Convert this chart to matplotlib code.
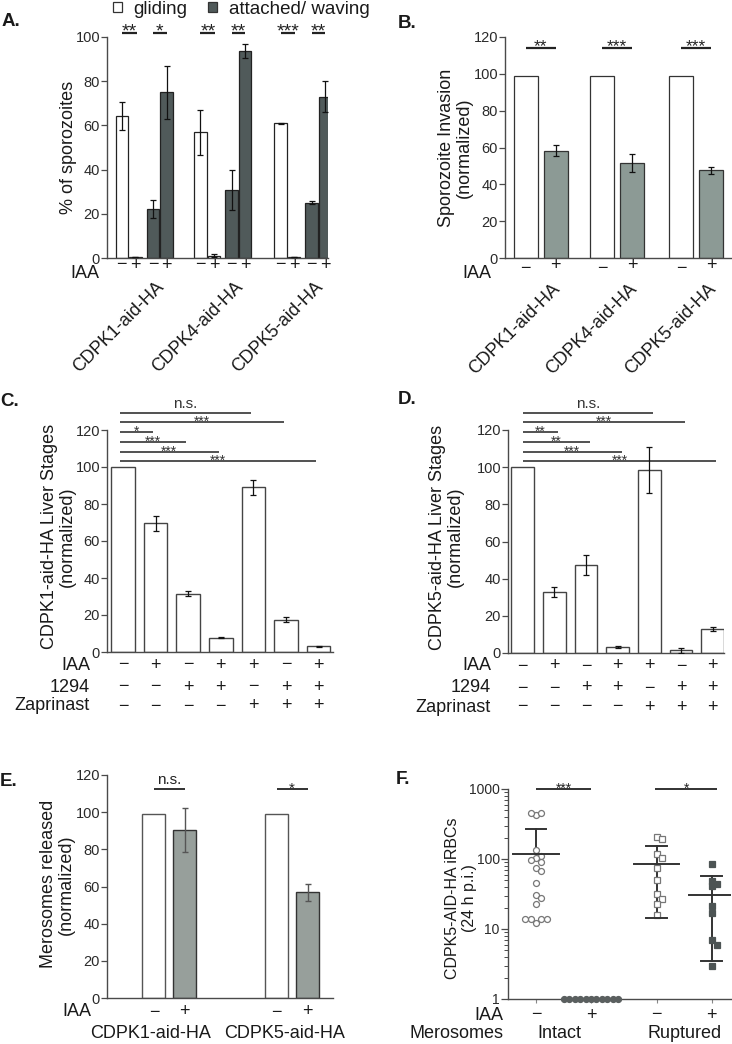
import numpy as np
import matplotlib
matplotlib.use('Agg')
import matplotlib.pyplot as plt
from matplotlib.patches import Patch
from matplotlib.transforms import ScaledTranslation
from matplotlib.textpath import TextPath
from matplotlib.font_manager import FontProperties

plt.rcParams['font.family'] = ['Liberation Sans', 'DejaVu Sans']

# ---------------- data ----------------
# Panel A
a_strains = ['CDPK1-aid-HA', 'CDPK4-aid-HA', 'CDPK5-aid-HA']
a_gliding_minus = [64.2, 56.8, 60.9]
a_gliding_minus_sd = [6.4, 10.2, 0.4]
a_gliding_plus = [0.3, 1.0, 0.3]
a_gliding_plus_sd = [0.0, 0.6, 0.0]
a_attached_minus = [22.3, 30.8, 25.1]
a_attached_minus_sd = [4.1, 9.0, 0.5]
a_attached_plus = [74.9, 93.7, 72.9]
a_attached_plus_sd = [11.8, 3.0, 7.0]
a_sig_gliding = ['**', '**', '***']
a_sig_attached = ['*', '**', '**']
iaa_signs = ['\u2212', '+']
a_legend = ['gliding', 'attached/ waving']

# Panel B
b_strains = ['CDPK1-aid-HA', 'CDPK4-aid-HA', 'CDPK5-aid-HA']
b_minus = [99, 99, 99]
b_plus = [58.2, 51.5, 47.6]
b_plus_sd = [3.0, 5.0, 2.0]
b_sig = ['**', '***', '***']

# Panels C and D
cd_rows = ['IAA', '1294', 'Zaprinast']
cd_iaa = ['\u2212', '+', '\u2212', '+', '+', '\u2212', '+']
cd_1294 = ['\u2212', '\u2212', '+', '+', '\u2212', '+', '+']
cd_zap = ['\u2212', '\u2212', '\u2212', '\u2212', '+', '+', '+']
c_values = [100, 69.5, 31.6, 7.8, 89.0, 17.5, 3.1]
c_sd = [0, 4.2, 1.3, 0.3, 3.9, 1.2, 0.3]
c_sig_target = [4, 5, 1, 2, 3, 6]
c_sig_label = ['n.s.', '***', '*', '***', '***', '***']
d_values = [100, 32.9, 47.2, 3.2, 98.4, 1.4, 12.9]
d_sd = [0, 2.7, 5.4, 0.3, 12.4, 1.2, 1.3]
d_sig_target = [4, 5, 1, 2, 3, 6]
d_sig_label = ['n.s.', '***', '**', '**', '***', '***']

# Panel E
e_strains = ['CDPK1-aid-HA', 'CDPK5-aid-HA']
e_minus = [99, 99]
e_plus = [90.5, 57.0]
e_plus_sd = [12.0, 4.6]
e_sig = ['n.s.', '*']

# Panel F
f_groups = ['Intact', 'Ruptured']
f_intact_minus = [420, 450, 460, 133, 112, 105, 98, 91, 74, 67, 45, 31, 28, 23,
                  12, 14, 14, 14, 14]
f_intact_plus = [1, 1, 1, 1, 1, 1, 1, 1, 1, 1, 1]
f_ruptured_minus = [208, 191, 118, 105, 74, 50, 32, 27, 23, 16]
f_ruptured_plus = [85, 49, 41, 44, 21, 17, 7, 6, 3]
f_sig = ['***', '*']

# ---------------- layout helpers ----------------
W, H, DPI = 732, 1044, 100
fig = plt.figure(figsize=(W / DPI, H / DPI), dpi=DPI)
AX_COL = '#4a4a4a'
TXT = '#1a1a1a'
DARK = '#505a5a'
GRAY_B = '#8c9a95'
GRAY_E = '#979f9b'

# ink bottom of the asterisk glyph, as a fraction of the font size
_star_ext = TextPath((0, 0), '*', size=1.0, prop=FontProperties(family='Liberation Sans')).get_extents()
STAR_YMIN = _star_ext.y0


def add_ax(l, r, t, b):
    ax = fig.add_axes([l / W, 1 - b / H, (r - l) / W, (b - t) / H])
    ax.spines['top'].set_visible(False)
    ax.spines['right'].set_visible(False)
    for s in ('left', 'bottom'):
        ax.spines[s].set_color(AX_COL)
        ax.spines[s].set_linewidth(1.0)
    ax.tick_params(axis='y', direction='out', length=4, width=0.9, color=AX_COL,
                   labelsize=10.5, labelcolor='#2a2a2a', pad=1)
    ax.tick_params(axis='x', length=0, labelbottom=False)
    return ax


def below(ax, dy):
    return ax.get_xaxis_transform() + ScaledTranslation(0, -dy / DPI, fig.dpi_scale_trans)


def ftext(x, y, s, **kw):
    kw.setdefault('color', TXT)
    fig.text(x / W, 1 - y / H, s, **kw)


def sig(ax, x0, x1, y, label, fs, lw=1.3, color='#222', gap=2.0):
    ax.plot([x0, x1], [y, y], color=color, lw=lw, clip_on=False, solid_capstyle='butt')
    if '*' in label:
        off = -(STAR_YMIN * fs * DPI / 72) + gap
        tr = ax.transData + ScaledTranslation(0, off / DPI, fig.dpi_scale_trans)
        ax.text((x0 + x1) / 2, y, label, ha='center', va='baseline', fontsize=fs,
                color=color, transform=tr, clip_on=False)
    else:
        tr = ax.transData + ScaledTranslation(0, 2 / DPI, fig.dpi_scale_trans)
        ax.text((x0 + x1) / 2, y, label, ha='center', va='bottom', fontsize=fs,
                color=color, transform=tr, clip_on=False)


LBL = 13
ekw = dict(ecolor='#111', elinewidth=0.9, capsize=2, capthick=0.9)

# ---------------- Panel A ----------------
axA = add_ax(107, 328, 37, 258)
grp = np.array([0, 5.8, 11.7])
inner = [0, 1, 2.3, 3.3]
bw = 0.92
series = [(a_gliding_minus, a_gliding_minus_sd, 'white'),
          (a_gliding_plus, a_gliding_plus_sd, 'white'),
          (a_attached_minus, a_attached_minus_sd, DARK),
          (a_attached_plus, a_attached_plus_sd, DARK)]
for k, (vals, sds, col) in enumerate(series):
    xs = grp + inner[k]
    axA.bar(xs, vals, width=bw, color=col, edgecolor='#222', linewidth=0.9, zorder=2)
    axA.errorbar(xs, vals, yerr=sds, fmt='none', zorder=3, **ekw)
axA.set_ylim(0, 100)
axA.set_xlim(-1.09, 15.2)
axA.set_yticks([0, 20, 40, 60, 80, 100])
axA.set_ylabel('% of sporozoites', fontsize=LBL, color=TXT)
axA.yaxis.set_label_coords(-(107 - 77) / (328 - 107), 0.5)
for g in range(3):
    sig(axA, grp[g] + inner[0], grp[g] + inner[1] + 0.1, 101.7, a_sig_gliding[g], 14, lw=1.6, gap=3.0)
    sig(axA, grp[g] + inner[2], grp[g] + inner[3], 101.7, a_sig_attached[g], 14, lw=1.6, gap=3.0)
    for k in range(4):
        axA.text(grp[g] + inner[k], 0, iaa_signs[k % 2], transform=below(axA, 7),
                 ha='center', va='center', fontsize=LBL, color=TXT)
    axA.text(grp[g] + 2.5, 0, a_strains[g], transform=below(axA, 20), rotation=45,
             rotation_mode='anchor', ha='right', va='top', fontsize=LBL, color=TXT)
ftext(99, 274, 'IAA', ha='right', va='center', fontsize=LBL)
fig.legend(handles=[Patch(facecolor='white', edgecolor='#333', linewidth=0.9),
                    Patch(facecolor=DARK, edgecolor='#333', linewidth=0.9)],
           labels=a_legend, ncol=2, frameon=False, loc='center',
           bbox_to_anchor=(241 / W, 1 - 9 / H), bbox_transform=fig.transFigure,
           fontsize=13.5, handlelength=0.5, handleheight=0.5, handletextpad=0.6,
           columnspacing=1.1, borderpad=0, labelcolor=TXT)

# ---------------- Panel B ----------------
axB = add_ax(505, 731, 37, 258)
grpB = np.array([0, 2.55, 5.18])
bwB = 0.8
axB.bar(grpB, b_minus, width=bwB, color='white', edgecolor='#333', linewidth=0.9, zorder=2)
axB.bar(grpB + 1, b_plus, width=bwB, color=GRAY_B, edgecolor='#333', linewidth=0.9, zorder=2)
axB.errorbar(grpB + 1, b_plus, yerr=b_plus_sd, fmt='none', zorder=3, **ekw)
axB.set_ylim(0, 120)
axB.set_xlim(-0.69, 6.84)
axB.set_yticks([0, 20, 40, 60, 80, 100, 120])
axB.set_ylabel('Sporozoite Invasion\n(normalized)', fontsize=LBL, color=TXT, linespacing=1.1)
axB.yaxis.set_label_coords(-(505 - 473) / (731 - 505), 0.5)
for g in range(3):
    sig(axB, grpB[g], grpB[g] + 1, 114, b_sig[g], 12.5, lw=1.6, gap=2.5)
    axB.text(grpB[g], 0, iaa_signs[0], transform=below(axB, 11), ha='center', va='center',
             fontsize=LBL, color=TXT)
    axB.text(grpB[g] + 1, 0, iaa_signs[1], transform=below(axB, 8), ha='center', va='center',
             fontsize=LBL, color=TXT)
    axB.text(grpB[g] + 0.87, 0, b_strains[g], transform=below(axB, 22), rotation=45,
             rotation_mode='anchor', ha='right', va='top', fontsize=LBL, color=TXT)
ftext(491, 274, 'IAA', ha='right', va='center', fontsize=LBL)


# ---------------- Panels C & D ----------------
def liver_panel(l, r, t, b, vals, sds, targets, labels, ylab, xl, xr, end_off, row_x):
    ax = add_ax(l, r, t, b)
    xs = np.arange(len(vals))
    ax.bar(xs, vals, width=0.72, color='white', edgecolor='#444', linewidth=1.0, zorder=2)
    errs = [s if s > 0 else np.nan for s in sds]
    ax.errorbar(xs, vals, yerr=errs, fmt='none', zorder=3, **ekw)
    ax.set_ylim(0, 120)
    ax.set_xlim(xl, xr)
    ax.set_yticks([0, 20, 40, 60, 80, 100, 120])
    ax.set_ylabel(ylab, fontsize=LBL, color=TXT, linespacing=1.1)
    levels = [129.2, 124.2, 118.9, 113.5, 108.3, 103.2]
    for tgt, lab, yv in zip(targets, labels, levels):
        start = -0.1 if end_off < 0 else 0.0
        sig(ax, start, tgt + end_off, yv, lab, 10 if '*' in lab else 11, lw=1.2,
            color='#333', gap=1.0)
    rows = [cd_iaa, cd_1294, cd_zap]
    dys = [13, 35, 54]
    for rname, row, dy in zip(cd_rows, rows, dys):
        for x, s in zip(xs, row):
            ax.text(x, 0, s, transform=below(ax, dy), ha='center', va='center',
                    fontsize=LBL, color=TXT)
        ftext(row_x, b + dy, rname, ha='right', va='center', fontsize=LBL)
    return ax


axC = liver_panel(107, 333, 430, 652, c_values, c_sd, c_sig_target, c_sig_label,
                  'CDPK1-aid-HA Liver Stages\n(normalized)', -0.49, 6.44, -0.07, 90)
axD = liver_panel(508, 724, 430, 653, d_values, d_sd, d_sig_target, d_sig_label,
                  'CDPK5-aid-HA Liver Stages\n(normalized)', -0.47, 6.36, 0.12, 491)
axC.yaxis.set_label_coords(-(107 - 76) / (333 - 107), 0.52)
axD.yaxis.set_label_coords(-(508 - 464) / (724 - 508), 0.52)

# ---------------- Panel E ----------------
axE = add_ax(107, 333, 775, 998)
grpE = np.array([0, 4])
bwE = 0.75
axE.bar(grpE, e_minus, width=bwE, color='white', edgecolor='#555', linewidth=1.0, zorder=2)
axE.bar(grpE + 1, e_plus, width=bwE, color=GRAY_E, edgecolor='#333', linewidth=1.0, zorder=2)
axE.errorbar(grpE + 1, e_plus, yerr=e_plus_sd, fmt='none', zorder=3,
             ecolor='#555', elinewidth=1.0, capsize=2, capthick=1.0)
axE.set_ylim(0, 120)
axE.set_xlim(-1.53, 5.83)
axE.set_yticks([0, 20, 40, 60, 80, 100, 120])
axE.set_ylabel('Merosomes released\n(normalized)', fontsize=LBL, color=TXT, linespacing=1.1)
axE.yaxis.set_label_coords(-(107 - 75) / (333 - 107), 0.51)
for g in range(2):
    sig(axE, grpE[g], grpE[g] + 1, 112.3, e_sig[g], 11, lw=1.3, gap=2.0)
    for k in range(2):
        axE.text(grpE[g] + k, 0, iaa_signs[k], transform=below(axE, 14), ha='center',
                 va='center', fontsize=LBL, color=TXT)
axE.text(-0.1, 0, e_strains[0], transform=below(axE, 35), ha='center', va='center',
         fontsize=LBL, color=TXT)
axE.text(4.25, 0, e_strains[1], transform=below(axE, 35), ha='center', va='center',
         fontsize=LBL, color=TXT)
ftext(91, 1012, 'IAA', ha='right', va='center', fontsize=LBL)

# ---------------- Panel F ----------------
axF = add_ax(508, 731, 789, 999)
axF.set_yscale('log')
axF.set_ylim(1, 1000)
posF = [0, 1, 2.2, 3.2]
axF.set_xlim(-0.51, 3.55)
axF.set_yticks([1, 10, 100, 1000])
axF.set_yticklabels(['1', '10', '100', '1000'])
axF.tick_params(axis='y', which='major', labelsize=10, length=5)
axF.tick_params(axis='y', which='minor', length=3, width=0.7, color=AX_COL)
axF.tick_params(axis='x', length=3, width=0.8, color='#888')
axF.set_xticks(posF)
axF.set_ylabel('CDPK5-AID-HA iRBCs\n(24 h p.i.)', fontsize=11.5, color=TXT, linespacing=1.15)
axF.yaxis.set_label_coords(-(508 - 477) / (731 - 508), 0.48)


def swarm(ax, x0, vals, diam_px=5.4):
    pts = ax.transData.transform(np.column_stack([np.full(len(vals), x0), vals]))
    placed = []
    for (px, py) in pts:
        k = 0
        while True:
            step = ((k + 1) // 2) * (1 if k % 2 == 1 else -1)
            cx = px + step * diam_px
            if all((cx - qx) ** 2 + (py - qy) ** 2 >= (diam_px * 0.97) ** 2 for qx, qy in placed):
                break
            k += 1
        placed.append((cx, py))
    return ax.transData.inverted().transform(np.array(placed))


f_sets = [(f_intact_minus, 'o', 'white', '#777'),
          (f_intact_plus, 'o', '#5a5f5f', '#5a5f5f'),
          (f_ruptured_minus, 's', 'white', '#777'),
          (f_ruptured_plus, 's', '#4d5454', '#4d5454')]
for (vals, mk, fc, ec), xp in zip(f_sets, posF):
    xy = swarm(axF, xp, vals)
    axF.plot(xy[:, 0], xy[:, 1], ls='none', marker=mk, ms=4.3, mfc=fc, mec=ec, mew=0.9,
             clip_on=False, zorder=3)
    if len(set(vals)) > 1:
        m = np.mean(vals)
        sd = np.std(vals, ddof=1)
        axF.plot([xp - 0.41, xp + 0.41], [m, m], color='#333', lw=1.4, zorder=4)
        lo = m - sd
        axF.plot([xp - 0.19, xp + 0.19], [m + sd, m + sd], color='#333', lw=1.4, zorder=4)
        if lo > 1:
            axF.plot([xp - 0.19, xp + 0.19], [lo, lo], color='#333', lw=1.4, zorder=4)
            axF.plot([xp, xp], [lo, m + sd], color='#333', lw=1.4, zorder=2)
        else:
            axF.plot([xp, xp], [m, m + sd], color='#333', lw=1.4, zorder=2)
sig(axF, posF[0], posF[1], 1000, f_sig[0], 10, lw=1.3, gap=1.0)
sig(axF, posF[2] - 0.03, posF[3] + 0.1, 1000, f_sig[1], 10, lw=1.3, gap=1.0)
for xp, s in zip(posF, iaa_signs * 2):
    axF.text(xp, 0, s, transform=below(axF, 16), ha='center', va='center', fontsize=LBL, color=TXT)
axF.text((posF[0] + posF[1]) / 2 - 0.07, 0, f_groups[0], transform=below(axF, 34), ha='center',
         va='center', fontsize=LBL, color=TXT)
axF.text((posF[2] + posF[3]) / 2, 0, f_groups[1], transform=below(axF, 34), ha='center',
         va='center', fontsize=LBL, color=TXT)
ftext(503, 1015, 'IAA', ha='right', va='center', fontsize=LBL)
ftext(503, 1033, 'Merosomes', ha='right', va='center', fontsize=LBL)

# ---------------- panel letters ----------------
for s, x, y in [('A.', 2, 21), ('B.', 398, 24), ('C.', 0, 401), ('D.', 398, 399),
                ('E.', 0, 782), ('F.', 396, 779)]:
    ftext(x, y, s, ha='left', va='center', fontsize=13.5, fontweight='bold')

fig.savefig('out.png', dpi=DPI)
